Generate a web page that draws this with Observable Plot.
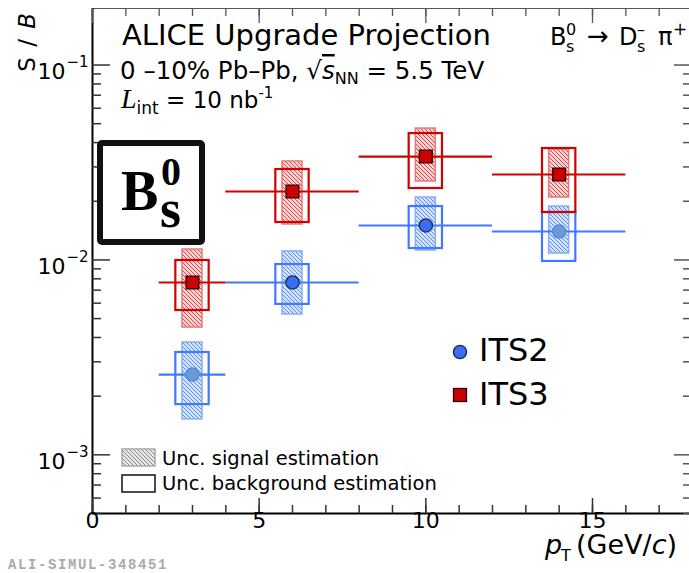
<!DOCTYPE html>
<html>
<head>
<meta charset="utf-8">
<script src="https://cdn.jsdelivr.net/npm/d3@7"></script>
<script src="https://cdn.jsdelivr.net/npm/@observablehq/plot@0.6"></script>
<style>
  html, body { margin: 0; padding: 0; background: #fff; overflow: hidden; }
  #chart svg { display: block; }
</style>
</head>
<body>
<div id="chart"></div>
<script>
// ---- data ----
const ptCenter = [3, 6, 10, 14];
const ptLow = [2, 4, 8, 12];
const ptHigh = [4, 8, 12, 16];

const its2SB      = [0.00258, 0.00766, 0.01502, 0.01399];
const its2SigLow  = [0.00152, 0.00525, 0.01118, 0.01079];
const its2SigHigh = [0.00377, 0.01105, 0.0209, 0.01879];
const its2BkgLow  = [0.00181, 0.00591, 0.01144, 0.00982];
const its2BkgHigh = [0.00335, 0.00947, 0.01879, 0.01751];

const its3SB      = [0.00766, 0.02244, 0.0339, 0.02743];
const its3SigLow  = [0.0045, 0.0152, 0.02526, 0.0209];
const its3SigHigh = [0.01131, 0.032, 0.0472, 0.0369];
const its3BkgLow  = [0.0055, 0.01556, 0.02325, 0.01751];
const its3BkgHigh = [0.00993, 0.0291, 0.0445, 0.0373];

const xTickValues = [0, 5, 10, 15];
const xTickLabels = ["0", "5", "10", "15"];
const yTickValues = [1e-3, 1e-2, 1e-1];
const yTickBase = ["10", "10", "10"];
const yTickExp = ["\u22123", "\u22122", "\u22121"];

// ---- tables ----
function series(sb, sLo, sHi, bLo, bHi) {
  return ptCenter.map((pt, i) => ({
    i, pt, lo: ptLow[i], hi: ptHigh[i], v: sb[i],
    sLo: sLo[i], sHi: sHi[i], bLo: bLo[i], bHi: bHi[i]
  }));
}
const its2 = series(its2SB, its2SigLow, its2SigHigh, its2BkgLow, its2BkgHigh);
const its3 = series(its3SB, its3SigLow, its3SigHigh, its3BkgLow, its3BkgHigh);
const xTicks = xTickValues.map((v, i) => ({v, label: xTickLabels[i]}));
const yTicks = yTickValues.map((v, i) => ({v, base: yTickBase[i], exp: yTickExp[i]}));
const xMinor = d3.range(0, 19);
const yMinor = [];
[1e-4, 1e-3, 1e-2].forEach(d => { for (let k = 2; k <= 9; k++) { const v = k * d; if (v >= 5e-4 && v <= 0.195) yMinor.push(v); } });

const RED = "#d40000", RED_MK = "#cc0000";
const BLUE = "#4079ff", BLUE_MK = "#3a6cf4";
const FRAME_W = 689 - 92, FRAME_H = 513 - 8;

function seriesMarks(data, col, hatch, hatchStroke, marker) {
  return [
    Plot.rect(data, {x1: d => d.pt - 0.3, x2: d => d.pt + 0.3, y1: "sLo", y2: "sHi",
      fill: hatch, stroke: hatchStroke, strokeWidth: 1.5}),
    Plot.rect(data, {x1: d => d.pt - 0.5, x2: d => d.pt + 0.5, y1: "bLo", y2: "bHi",
      fill: "none", stroke: col, strokeWidth: 2.2}),
    Plot.ruleY(data, {y: "v", x1: "lo", x2: "hi", stroke: col, strokeWidth: 2.2}),
    ...marker
  ];
}

const chart = Plot.plot({
  width: 689,
  height: 573,
  marginLeft: 92, marginRight: 0, marginTop: 8, marginBottom: 60,
  style: {fontFamily: "DejaVu Sans", background: "#fff", color: "#000"},
  x: {domain: [0, 18], range: [92, 692], axis: null},
  y: {type: "log", domain: [5e-4, 0.195], range: [513, 8], axis: null},
  marks: [
    // ITS2
    ...seriesMarks(its2, BLUE, "url(#hatchBlue)", "#86aef5", [
      Plot.dot(its2.filter(d => d.i === 1 || d.i === 2), {x: "pt", y: "v", r: 6.6, fill: BLUE_MK, stroke: "#1b2b50", strokeWidth: 1.3}),
      Plot.dot(its2.filter(d => d.i === 0 || d.i === 3), {x: "pt", y: "v", r: 6.6, fill: "#6a9ad2", stroke: "#4f86ea", strokeWidth: 1.3})
    ]),
    // ITS3
    ...seriesMarks(its3, RED, "url(#hatchRed)", "#e57a7a", [
      Plot.dot(its3, {x: "pt", y: "v", symbol: "square", r: 7.2, fill: RED_MK, stroke: "#2a0000", strokeWidth: 1.3})
    ]),
    // frame lines
    Plot.ruleY([0.195], {stroke: "#555", strokeWidth: 1.2}),
    Plot.ruleX([0], {stroke: "#000", strokeWidth: 2}),
    Plot.ruleY([5e-4], {stroke: "#000", strokeWidth: 2.2}),
    // inward ticks: left
    Plot.tickY(yTicks, {y: "v", insetRight: FRAME_W - 18, stroke: "#333", strokeWidth: 1.5}),
    Plot.tickY(yMinor, {y: d => d, insetRight: FRAME_W - 9, stroke: "#333", strokeWidth: 1.5}),
    // right
    Plot.tickY(yTicks, {y: "v", insetLeft: FRAME_W - 15, insetRight: -3, stroke: "#555", strokeWidth: 1.5}),
    Plot.tickY(yMinor, {y: d => d, insetLeft: FRAME_W - 6, insetRight: -3, stroke: "#555", strokeWidth: 1.5}),
    // bottom
    Plot.tickX(xTicks, {x: "v", insetTop: FRAME_H - 15, stroke: "#333", strokeWidth: 1.5}),
    Plot.tickX(xMinor, {x: d => d, insetTop: FRAME_H - 8, stroke: "#333", strokeWidth: 1.5}),
    // top
    Plot.tickX(xTicks, {x: "v", insetBottom: FRAME_H - 15, stroke: "#555", strokeWidth: 1.3}),
    Plot.tickX(xMinor, {x: d => d, insetBottom: FRAME_H - 8, stroke: "#555", strokeWidth: 1.3}),
    // tick labels
    Plot.text(xTicks, {x: "v", frameAnchor: "bottom", dy: 14, text: "label", fontSize: 22, fill: "#000"}),
    Plot.text(yTicks, {y: "v", frameAnchor: "left", dx: -27, dy: 7, textAnchor: "end", text: "base", fontSize: 22, fill: "#000"}),
    Plot.text(yTicks, {y: "v", frameAnchor: "left", dx: -26, dy: -3, textAnchor: "start", text: "exp", fontSize: 15, fill: "#000"})
  ]
});

document.getElementById("chart").appendChild(chart);

// ---- patterns and annotations ----
const svg = d3.select(chart);
const defs = svg.insert("defs", ":first-child");
function hatch(id, bg, line) {
  const p = defs.append("pattern").attr("id", id).attr("patternUnits", "userSpaceOnUse")
    .attr("width", 4).attr("height", 4);
  p.append("rect").attr("width", 4).attr("height", 4).attr("fill", bg);
  p.append("path").attr("d", "M0,0L4,4M-1,3L1,5M3,-1L5,1")
    .attr("stroke", line).attr("stroke-width", 1);
}
hatch("hatchRed", "#f6d2d2", "#d94a4a");
hatch("hatchBlue", "#d3e2f8", "#5a8ee6");
hatch("hatchGray", "#e6e6e6", "#8a8a8a");

const ann = svg.append("g").attr("font-family", "DejaVu Sans").attr("fill", "#000").attr("text-anchor", "start");
function txt(x, y, html, size, extra = {}) {
  const t = ann.append("text").attr("x", x).attr("y", y).attr("font-size", size).html(html);
  Object.entries(extra).forEach(([k, v]) => t.attr(k, v));
  return t;
}

txt(122, 45, "ALICE Upgrade Projection", 29);
txt(120, 79, '0 \u201310% Pb\u2013Pb, \u221A<tspan font-style="italic" text-decoration="overline">s</tspan><tspan dy="5" font-size="16">NN</tspan><tspan dy="-5"> = 5.5 TeV</tspan>', 24.5);
txt(121, 108, '<tspan font-family="Liberation Serif" font-style="italic" font-size="28">L</tspan><tspan dy="6" font-size="17">int</tspan><tspan dy="-6"> = 10 nb</tspan><tspan dy="-10" font-size="15">-1</tspan>', 23);

// decay channel label
txt(550, 45, 'B', 24);
txt(566, 35, '0', 16);
txt(566, 52, 's', 16);
txt(587, 45, '\u2192', 26);
txt(619, 45, 'D', 24);
txt(637, 35, '\u2013', 16);
txt(637, 52, 's', 16);
txt(658, 45, '\u03C0', 24);
txt(673, 35, '+', 17);

// B_s^0 box
ann.append("rect").attr("x", 100).attr("y", 143).attr("width", 102).attr("height", 99)
  .attr("rx", 2).attr("fill", "#fff").attr("stroke", "#111").attr("stroke-width", 6);
txt(121, 210, "B", 56, {"font-family": "Liberation Serif", "font-weight": "bold"});
txt(161, 185, "0", 40, {"font-family": "Liberation Serif", "font-weight": "bold"});
txt(160, 227, "s", 54, {"font-family": "Liberation Serif", "font-weight": "bold"});

// ITS legend
ann.append("circle").attr("cx", 460).attr("cy", 352).attr("r", 6.6).attr("fill", BLUE_MK).attr("stroke", "#1b2b50").attr("stroke-width", 1.3);
ann.append("rect").attr("x", 453.5).attr("y", 388.5).attr("width", 13).attr("height", 13).attr("fill", RED_MK).attr("stroke", "#2a0000").attr("stroke-width", 1.3);
txt(479, 361, "ITS2", 32);
txt(479, 405, "ITS3", 32);

// uncertainty legend
ann.append("rect").attr("x", 122).attr("y", 449).attr("width", 33).attr("height", 17).attr("fill", "url(#hatchGray)").attr("stroke", "#aaa").attr("stroke-width", 1.5);
ann.append("rect").attr("x", 122).attr("y", 475).attr("width", 33).attr("height", 17).attr("fill", "none").attr("stroke", "#111").attr("stroke-width", 1.5);
txt(162, 465, "Unc. signal estimation", 19.5);
txt(162, 490, "Unc. background estimation", 19.5);

// axis titles
txt(0, 0, 'S / <tspan font-style="italic">B</tspan>', 23, {"transform": "translate(35,13) rotate(-90)", "text-anchor": "end", "word-spacing": "3"});
txt(545, 554, '<tspan font-style="italic">p</tspan>', 27);
txt(561, 561, 'T', 16);
txt(576, 554, '(GeV/<tspan font-style="italic">c</tspan>)', 27);

// watermark
txt(8, 569, "ALI-SIMUL-348451", 14, {"font-family": "Liberation Mono", "font-weight": "bold", "fill": "#aaa", "letter-spacing": "1.6"});
</script>
</body>
</html>
